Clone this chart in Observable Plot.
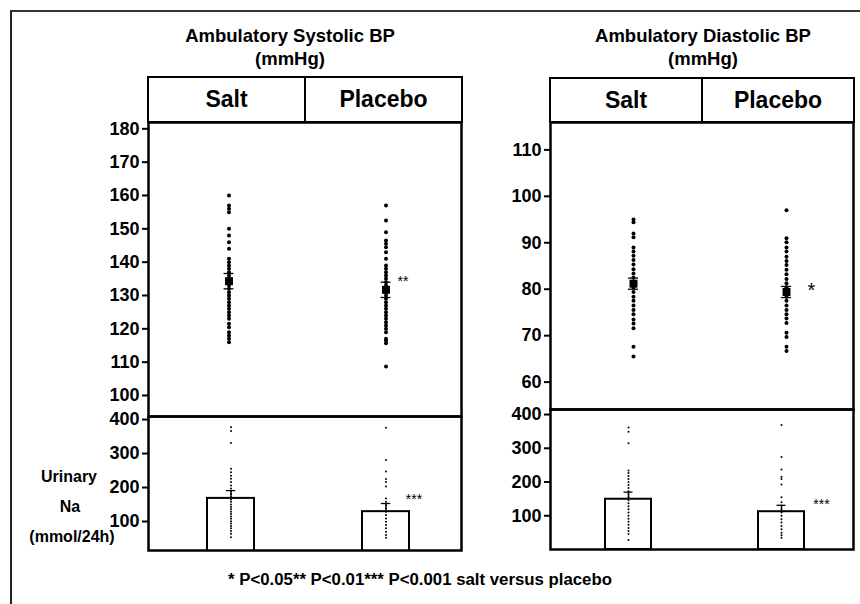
<!DOCTYPE html>
<html><head><meta charset="utf-8">
<script src="https://cdn.jsdelivr.net/npm/d3@7"></script>
<script src="https://cdn.jsdelivr.net/npm/@observablehq/plot@0.6"></script>
<style>
body{margin:0;background:#fff;font-family:"Liberation Sans",Arial,sans-serif;color:#000;}
#root{position:relative;width:860px;height:604px;overflow:hidden;background:#fff;}
.title{font-weight:bold;font-size:18.5px;line-height:23px;text-align:center;white-space:nowrap;}
.hdr{position:absolute;box-sizing:border-box;border:2.5px solid #000;font-weight:bold;font-size:23px;display:flex;align-items:center;justify-content:center;}
.lbl{position:absolute;font-weight:bold;font-size:16px;line-height:20px;text-align:center;white-space:nowrap;transform:translate(-50%,-50%);}
</style></head>
<body><div id="root"></div>
<script>
// ---------- data ----------
const groups = ["Salt", "Placebo"];

// Ambulatory systolic BP (mmHg), individual values
const sysSalt = [160,157,156,155,150,148,146,144,141,140,139,138,137,136,135,134,133,132,131,130,129,128,127,126,125,124,123,121.5,120.5,119,118,117,116];
const sysPlacebo = [157,152.5,149,146.5,145.5,144.5,143,141,139,138,137,136,135,134,133,132,131,130,129,128,127,126,125,124,123,122,121,120,119,117,116.5,115.7,108.7];
const sysMean = [134.3, 131.7];
const sysSE = [2.3, 2.3];

// Ambulatory diastolic BP (mmHg)
const diaSalt = [95,94.4,92,91.2,89,88.1,87.2,86.3,85.3,84.3,83.4,82.5,81.2,80.4,79.4,78.4,77.5,76.5,75.5,74.6,73.5,72.6,71.6,67.6,65.5];
const diaPlacebo = [97,91,90.1,89,88.1,87,86.1,85.2,84.2,83.2,82.2,81.3,80.4,79.4,78.4,77.5,76.5,75.5,74.6,73.7,72.7,70.6,69.7,67.6,66.7];
const diaMean = [81.2, 79.4];
const diaSE = [1.2, 1.2];

// Urinary Na (mmol/24h), left panel
const naLSalt = [377,366,331,255,245,235,226,216,206,197,188,180,172,165,158,150,143,136,129,122,115,108,101,94,87,80,72,64,54];
const naLPlacebo = [376,281,247,225,216,203,168,158,148,139,129,119,109,99,90,80,70,60,52];
const naLMean = [168, 129];
const naLSE = [23, 24];

// Urinary Na (mmol/24h), right panel
const naRSalt = [362,349,315,234,227,218,209,200,191,182,173,164,155,146,137,128,119,110,100,91,82,73,64,55,46,28];
const naRPlacebo = [369,274,237,216,209,193,155,140,130,120,110,100,90,80,70,60,50,42,35];
const naRMean = [149, 112];
const naRSE = [21, 19];

// tick labels
const sysTicks = [100,110,120,130,140,150,160,170,180];
const diaTicks = [60,70,80,90,100,110];
const naTicks = [100,200,300,400];

// significance marks (placebo vs salt)
const sigLabels = ["**", "*", "***", "***"];
const sigValues = [134.8, 80.3, 173.5, 139];

// ---------- helpers ----------
const FONT = '"Liberation Sans", Arial, sans-serif';
const PAD = 0.7;
function bandRange(c1, c2) {
  const step = c2 - c1;
  const a = c1 - step * PAD - step * (1 - PAD) / 2;
  return [a, a + step * (2 + PAD)];
}
function rows(a, b) {
  return [...a.map(v => ({group: groups[0], v})), ...b.map(v => ({group: groups[1], v}))];
}
function meanRows(m, se) {
  return groups.map((g, i) => ({group: g, m: m[i], lo: m[i] - se[i], hi: m[i] + se[i]}));
}

const root = document.getElementById("root");
function place(el, left, top) {
  el.style.position = "absolute";
  el.style.left = left + "px";
  el.style.top = top + "px";
  root.appendChild(el);
}

function dotPanel(o) {
  const bw = (o.c2 - o.c1) * (1 - PAD);
  const capInset = (bw - 10) / 2;
  const mr = meanRows(o.mean, o.se);
  return Plot.plot({
    width: o.width, height: o.height,
    marginLeft: 50, marginRight: 5, marginTop: 5, marginBottom: 5,
    x: {type: "band", domain: groups, range: bandRange(o.c1, o.c2), padding: PAD, axis: null},
    y: {domain: o.domain},
    style: {background: "transparent", overflow: "visible", fontFamily: FONT, color: "#000"},
    marks: [
      Plot.frame({strokeWidth: 2.5}),
      Plot.axisY({ticks: o.ticks, tickSize: 6, tickPadding: 3, tickFormat: d => String(d), fontSize: 18, fontWeight: "bold", strokeWidth: 2, label: null}),
      Plot.dot(rows(o.salt, o.placebo), {x: "group", y: "v", r: 2, fill: "#000", stroke: "none"}),
      Plot.ruleX(mr, {x: "group", y1: "lo", y2: "hi", strokeWidth: 1.3}),
      Plot.tickY(mr, {x: "group", y: "hi", insetLeft: capInset, insetRight: capInset, strokeWidth: 1.3}),
      Plot.tickY(mr, {x: "group", y: "lo", insetLeft: capInset, insetRight: capInset, strokeWidth: 1.3}),
      Plot.dot(mr, {x: "group", y: "m", symbol: "square", r: 4.5, fill: "#000", stroke: "none"}),
      Plot.text([{group: groups[1], v: o.sigValue, t: o.sig}], {x: "group", y: "v", text: "t", dx: o.sigDx, dy: o.sigDy, fontSize: o.sigSize, fontWeight: "normal", textAnchor: "middle"})
    ]
  });
}

function barPanel(o) {
  const bw = (o.c2 - o.c1) * (1 - PAD);
  const capInset = (bw - 9) / 2;
  const mr = meanRows(o.mean, o.se);
  return Plot.plot({
    width: o.width, height: o.height,
    marginLeft: 50, marginRight: 5, marginTop: 5, marginBottom: 5,
    x: {type: "band", domain: groups, range: bandRange(o.c1, o.c2), padding: PAD, axis: null},
    y: {domain: o.domain},
    style: {background: "transparent", overflow: "visible", fontFamily: FONT, color: "#000"},
    marks: [
      Plot.barY(mr, {x: "group", y: "m", fill: "#fff", stroke: "#000", strokeWidth: 2, clip: true}),
      Plot.frame({strokeWidth: 2.5}),
      Plot.axisY({ticks: o.ticks, tickSize: 6, tickPadding: 3, tickFormat: d => String(d), fontSize: 18, fontWeight: "bold", strokeWidth: 2, label: null}),
      Plot.dot(rows(o.salt, o.placebo), {x: "group", y: "v", r: 1, fill: "#000", stroke: "none"}),
      Plot.ruleX(mr, {x: "group", y1: "m", y2: "hi", strokeWidth: 1.3}),
      Plot.tickY(mr, {x: "group", y: "hi", insetLeft: capInset, insetRight: capInset, strokeWidth: 1.3}),
      Plot.text([{group: groups[1], v: o.sigValue, t: o.sig}], {x: "group", y: "v", text: "t", dx: o.sigDx, dy: o.sigDy, fontSize: o.sigSize, fontWeight: "normal", textAnchor: "middle"})
    ]
  });
}

// ---------- frame border ----------
const border = document.createElement("div");
border.style.cssText = "width:850px;height:594px;border-top:2px solid #333;border-left:2.5px solid #222;box-sizing:border-box;";
place(border, 10, 10);

// ---------- titles ----------
function title(lines, cx, top) {
  const d = document.createElement("div");
  d.className = "title";
  d.innerHTML = lines.join("<br>");
  d.style.width = "300px";
  place(d, cx - 150, top);
}
title(["Ambulatory Systolic BP", "(mmHg)"], 290, 24);
title(["Ambulatory Diastolic BP", "(mmHg)"], 703, 24);

// ---------- header boxes ----------
function header(text, left, top, width, height) {
  const d = document.createElement("div");
  d.className = "hdr";
  d.textContent = text;
  d.style.width = width + "px";
  d.style.height = height + "px";
  place(d, left, top);
}
header(groups[0], 147, 76, 159, 47);
header(groups[1], 304, 76, 159, 47);
header(groups[0], 549, 77, 154, 46);
header(groups[1], 701, 77, 154, 46);

// ---------- panels ----------
place(dotPanel({width: 368, height: 304, c1: 131, c2: 288, domain: [93.7, 181.9], ticks: sysTicks,
  salt: sysSalt, placebo: sysPlacebo, mean: sysMean, se: sysSE,
  sig: sigLabels[0], sigValue: sigValues[0], sigDx: 17, sigDy: 2, sigSize: 14}), 98, 117);

place(barPanel({width: 368, height: 144, c1: 131.5, c2: 287, domain: [14.7, 409], ticks: naTicks,
  salt: naLSalt, placebo: naLPlacebo, mean: naLMean, se: naLSE,
  sig: sigLabels[2], sigValue: sigValues[2], sigDx: 28, sigDy: 3, sigSize: 14}), 98, 411);

place(dotPanel({width: 358, height: 297, c1: 133, c2: 286, domain: [54.1, 115.9], ticks: diaTicks,
  salt: diaSalt, placebo: diaPlacebo, mean: diaMean, se: diaSE,
  sig: sigLabels[1], sigValue: sigValues[1], sigDx: 25, sigDy: 3, sigSize: 20}), 500, 117);

place(barPanel({width: 358, height: 150, c1: 127.5, c2: 281, domain: [0, 415], ticks: naTicks,
  salt: naRSalt, placebo: naRPlacebo, mean: naRMean, se: naRSE,
  sig: sigLabels[3], sigValue: sigValues[3], sigDx: 40, sigDy: 2, sigSize: 14}), 500, 404);

// ---------- y label for urinary Na ----------
function lbl(text, cx, cy) {
  const d = document.createElement("div");
  d.className = "lbl";
  d.textContent = text;
  place(d, cx, cy);
}
lbl("Urinary", 69, 477);
lbl("Na", 70, 507);
lbl("(mmol/24h)", 72, 537);

// ---------- footnote ----------
const foot = document.createElement("div");
foot.className = "lbl";
foot.style.fontSize = "16.8px";
foot.textContent = "* P<0.05** P<0.01*** P<0.001 salt versus placebo";
place(foot, 420, 580);
</script>
</body></html>
